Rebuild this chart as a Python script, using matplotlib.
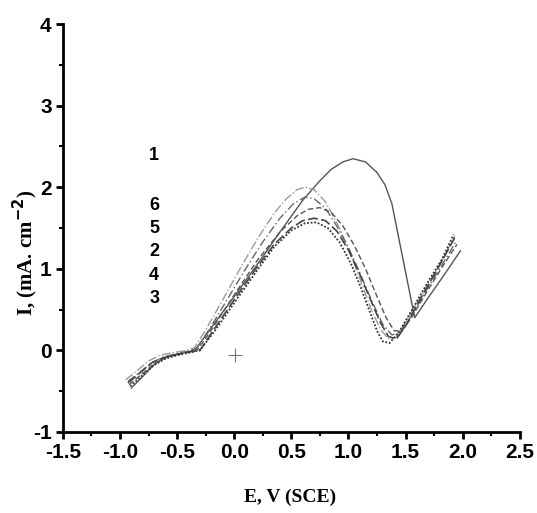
import matplotlib
matplotlib.use('Agg')
import matplotlib.pyplot as plt
from matplotlib.ticker import MultipleLocator

# 読み取った曲線データ (E / V vs SCE, I / mA cm-2)
e1 = [-0.90, -0.80, -0.70, -0.62, -0.55, -0.45, -0.38, -0.33, -0.20, 0.00, 0.20, 0.40, 0.60, 0.75, 0.85,
      0.95, 1.04, 1.15, 1.25, 1.32, 1.38, 1.45, 1.52, 1.58, 1.70, 1.85, 1.98]
i1 = [-0.46, -0.32, -0.17, -0.10, -0.06, -0.03, -0.01, 0.03, 0.28, 0.66, 1.05, 1.45, 1.84, 2.08, 2.22,
      2.31, 2.35, 2.31, 2.18, 2.03, 1.80, 1.31, 0.82, 0.40, 0.65, 0.95, 1.22]

e6 = [-0.95, -0.85, -0.75, -0.65, -0.55, -0.45, -0.35, -0.25, -0.10, 0.05, 0.20, 0.35, 0.45, 0.55, 0.62,
      0.70, 0.80, 0.90, 1.00, 1.10, 1.20, 1.28, 1.35, 1.42, 1.50, 1.65, 1.80, 1.93]
i6 = [-0.36, -0.25, -0.13, -0.06, -0.03, -0.01, 0.03, 0.25, 0.62, 1.00, 1.36, 1.68, 1.85, 1.97, 2.00,
      1.97, 1.82, 1.56, 1.25, 0.88, 0.50, 0.26, 0.14, 0.16, 0.35, 0.70, 1.05, 1.40]

e5 = [-0.93, -0.82, -0.72, -0.62, -0.50, -0.40, -0.33, -0.20, -0.05, 0.10, 0.25, 0.40, 0.52, 0.62, 0.70,
      0.80, 0.90, 1.00, 1.10, 1.20, 1.30, 1.38, 1.45, 1.55, 1.70, 1.82, 1.94]
i5 = [-0.38, -0.26, -0.15, -0.08, -0.04, -0.01, 0.02, 0.30, 0.65, 1.00, 1.33, 1.62, 1.80, 1.88, 1.86,
      1.74, 1.52, 1.26, 0.95, 0.62, 0.32, 0.19, 0.22, 0.42, 0.78, 1.05, 1.33]

e2 = [-0.92, -0.80, -0.70, -0.60, -0.50, -0.40, -0.32, -0.20, 0.00, 0.20, 0.40, 0.55, 0.65, 0.75, 0.85,
      0.95, 1.05, 1.15, 1.25, 1.33, 1.40, 1.47, 1.55, 1.70, 1.82, 1.95]
i2 = [-0.42, -0.28, -0.16, -0.09, -0.05, -0.02, 0.01, 0.25, 0.68, 1.10, 1.45, 1.65, 1.73, 1.75, 1.69,
      1.53, 1.29, 1.00, 0.66, 0.40, 0.24, 0.24, 0.40, 0.75, 1.02, 1.30]

e4 = [-0.93, -0.82, -0.72, -0.62, -0.50, -0.40, -0.30, -0.18, 0.00, 0.20, 0.35, 0.50, 0.60, 0.70, 0.80,
      0.90, 1.00, 1.10, 1.20, 1.28, 1.35, 1.42, 1.50, 1.65, 1.80, 1.93]
i4 = [-0.40, -0.27, -0.15, -0.09, -0.05, -0.02, 0.00, 0.25, 0.62, 1.02, 1.30, 1.50, 1.59, 1.62, 1.59,
      1.46, 1.23, 0.93, 0.60, 0.34, 0.17, 0.14, 0.30, 0.68, 1.05, 1.38]

e3 = [-0.91, -0.80, -0.70, -0.60, -0.50, -0.40, -0.30, -0.18, 0.00, 0.20, 0.35, 0.50, 0.62, 0.72, 0.82,
      0.92, 1.02, 1.10, 1.18, 1.25, 1.30, 1.36, 1.44, 1.55, 1.70, 1.82, 1.92]
i3 = [-0.44, -0.30, -0.18, -0.10, -0.06, -0.03, 0.00, 0.22, 0.58, 0.98, 1.27, 1.47, 1.56, 1.57, 1.50,
      1.33, 1.07, 0.80, 0.50, 0.24, 0.11, 0.09, 0.22, 0.48, 0.85, 1.12, 1.42]

labels = ['1', '6', '5', '2', '4', '3']
label_y = [2.39, 1.78, 1.50, 1.21, 0.92, 0.64]

sans = ['Liberation Sans', 'DejaVu Sans']
serif = ['Liberation Serif', 'DejaVu Serif']

fig = plt.figure(figsize=(5.37, 5.13), dpi=100)
ax = fig.add_axes([0.117, 0.158, 0.851, 0.795])

ax.plot(e1, i1, color='#555555', lw=1.0, ls='-')
ax.plot(e6, i6, color='#9a9a9a', lw=1.0, ls='-.')
ax.plot(e5, i5, color='#666666', lw=1.0, ls=(0, (6, 2, 1, 2)))
ax.plot(e2, i2, color='#555555', lw=1.0, ls=(0, (4, 2)))
ax.plot(e4, i4, color='#444444', lw=1.2, ls=(0, (6, 2)))
ax.plot(e3, i3, color='#333333', lw=1.3, ls=(0, (1, 1)))
ax.plot([0.01], [-0.06], marker='+', color='#777777', ms=10, mew=0.8)

for lab, y in zip(labels, label_y):
    ax.text(-0.70, y, lab, family=sans, fontweight='bold', fontsize=13,
            ha='center', va='center')

ax.set_xlim(-1.5, 2.5)
ax.set_ylim(-1, 4)
ax.xaxis.set_major_locator(MultipleLocator(0.5))
ax.xaxis.set_minor_locator(MultipleLocator(0.25))
ax.yaxis.set_major_locator(MultipleLocator(1))
ax.yaxis.set_minor_locator(MultipleLocator(0.5))
ax.xaxis.set_major_formatter(plt.FuncFormatter(lambda v, p: '%.1f' % v))
ax.yaxis.set_major_formatter(plt.FuncFormatter(lambda v, p: '%d' % v))

for s in ['top', 'right']:
    ax.spines[s].set_visible(False)
for s in ['left', 'bottom']:
    ax.spines[s].set_linewidth(2)

ax.tick_params(which='major', direction='out', length=5, width=2, pad=3)
ax.tick_params(which='minor', direction='out', length=3, width=1.5)
for t in ax.get_xticklabels() + ax.get_yticklabels():
    t.set_family(sans)
    t.set_fontweight('bold')
    t.set_fontsize(15)

ax.set_xlabel('E, V (SCE)', family=serif, fontweight='bold', fontsize=14)
ax.xaxis.set_label_coords(0.497, -0.14)
ax.set_ylabel('I, (mA. cm$^{\\mathbf{-2}}$)', family=serif, fontweight='bold', fontsize=15)
ax.yaxis.set_label_coords(-0.05, 0.44)

fig.savefig('out.png', dpi=100)
